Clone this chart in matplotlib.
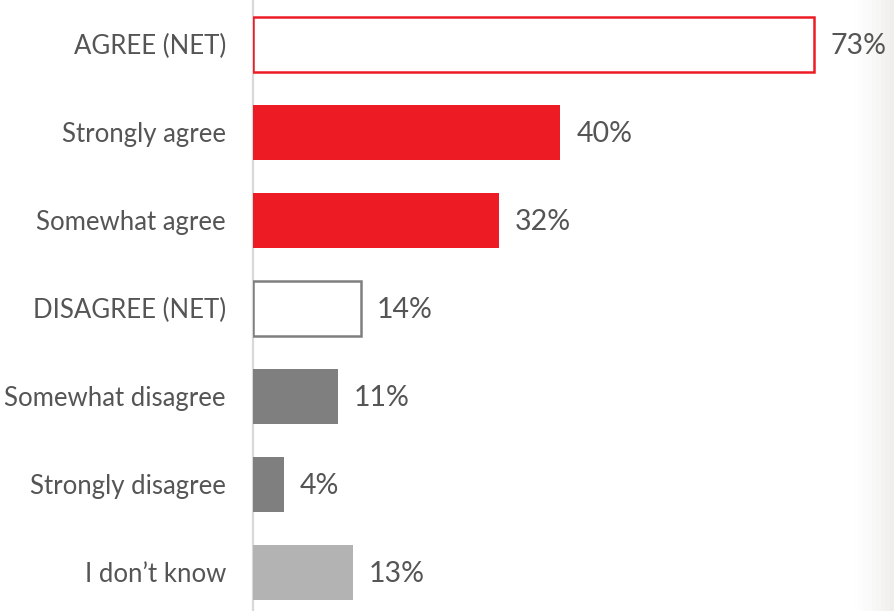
import matplotlib
matplotlib.use("Agg")
import matplotlib.pyplot as plt
import numpy as np

categories = ["AGREE (NET)", "Strongly agree", "Somewhat agree", "DISAGREE (NET)",
              "Somewhat disagree", "Strongly disagree", "I don\u2019t know"]
values = [73, 40, 32, 14, 11, 4, 13]
face_colors = ["white", "#ED1C24", "#ED1C24", "white", "#7F7F7F", "#7F7F7F", "#B3B3B3"]
edge_colors = ["#ED1C24", "#ED1C24", "#ED1C24", "#7F7F7F", "#7F7F7F", "#7F7F7F", "#B3B3B3"]

plt.rcParams["font.family"] = ["Lato", "DejaVu Sans"]

W, H = 894, 611
fig = plt.figure(figsize=(W / 100, H / 100), dpi=100)

# faint shading along the right edge
bg = fig.add_axes([0, 0, 1, 1], zorder=-10)
bg.axis("off")
grad = np.linspace(0, 1, 200)
grad = np.clip((grad - 0.955) / 0.045, 0, 1) ** 1.5
img = np.ones((1, 200, 3))
for i, c in enumerate([0.94, 0.935, 0.93]):
    img[0, :, i] = 1 - grad * (1 - c)
bg.imshow(img, aspect="auto", extent=[0, 1, 0, 1], transform=bg.transAxes)

left_px = 253
ax = fig.add_axes([left_px / W, 0, (W - left_px) / W, 1])
ax.patch.set_alpha(0)
px_per_unit = (814 - left_px) / 73
ax.set_xlim(0, (W - left_px) / px_per_unit)
slot = 88
ax.set_ylim(-0.5 + H / slot, -0.5)

text_color = "#555555"
fs = 18.5
y = np.arange(len(categories))
bar_h = 55 / slot
for yi, v, fc, ec in zip(y, values, face_colors, edge_colors):
    lw = 1.8 if fc == "white" else 0
    ax.barh(yi, v, height=bar_h, color=fc, edgecolor=ec, linewidth=lw, zorder=3)
    ax.text(v + 16 / px_per_unit, yi + 0.02, f"{v}%", va="center", ha="left",
            fontsize=20.5, color=text_color)

for s in ["top", "right", "bottom"]:
    ax.spines[s].set_visible(False)
ax.spines["left"].set_color("#D9D9D9")
ax.spines["left"].set_linewidth(1.6)
ax.set_xticks([])
ax.set_yticks(y)
ax.set_yticklabels(categories, fontsize=fs, color=text_color)
ax.tick_params(axis="y", length=0, pad=19.5)

fig.savefig("out.png", dpi=100)
